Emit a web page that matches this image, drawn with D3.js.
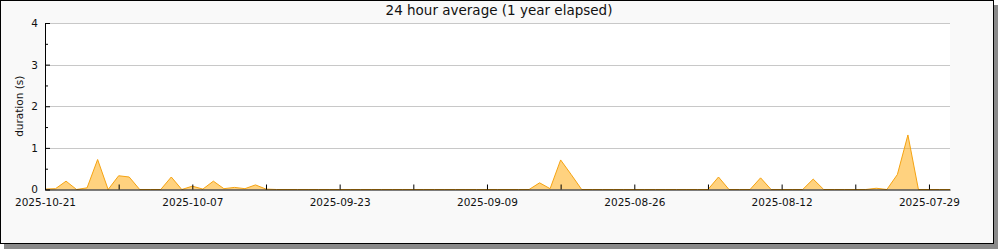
<!DOCTYPE html>
<html><head><meta charset="utf-8">
<script src="https://cdn.jsdelivr.net/npm/d3@7"></script>
<style>
html,body{margin:0;padding:0;background:#fff;}
svg{display:block;font-family:"DejaVu Sans",sans-serif;}
</style></head>
<body><svg id="c" width="1000" height="250"></svg>
<script>
// ---- data ----
const title = "24 hour average (1 year elapsed)";
const yLabel = "duration (s)";
const startDate = "2025-10-21";   // first (leftmost) day, going back in time
const endDate = "2025-07-27";     // rightmost end of axis
// daily values, from 2025-10-21 backwards
const values = [
  0.01, 0.02, 0.20, 0.00, 0.04, 0.72, 0.00, 0.33, 0.30, 0.00,
  0.00, 0.00, 0.30, 0.00, 0.08, 0.01, 0.20, 0.02, 0.05, 0.02,
  0.11, 0.01, 0.00, 0.00, 0.00, 0.00, 0.00, 0.00, 0.00, 0.00,
  0.00, 0.00, 0.00, 0.00, 0.00, 0.00, 0.00, 0.00, 0.00, 0.00,
  0.00, 0.00, 0.00, 0.00, 0.00, 0.00, 0.00, 0.16, 0.02, 0.71,
  0.36, 0.00, 0.00, 0.00, 0.00, 0.00, 0.00, 0.00, 0.00, 0.00,
  0.00, 0.00, 0.00, 0.00, 0.30, 0.00, 0.00, 0.00, 0.28, 0.00,
  0.00, 0.00, 0.00, 0.25, 0.00, 0.00, 0.00, 0.00, 0.00, 0.03,
  0.00, 0.36, 1.31, 0.00, 0.00, 0.00, 0.00
];
const yTicks = [0, 1, 2, 3, 4];
const yMinorTicks = [0.5, 1.5, 2.5, 3.5];
const xTickLabels = ["2025-10-21", "2025-10-07", "2025-09-23", "2025-09-09", "2025-08-26", "2025-08-12", "2025-07-29"];
const xMinorTicks = ["2025-10-14", "2025-09-30", "2025-09-16", "2025-09-02", "2025-08-19", "2025-08-05"];

// ---- chart ----
const parse = d3.utcParse("%Y-%m-%d");
const fmt = d3.utcFormat("%Y-%m-%d");
const t0 = parse(startDate);
const data = values.map((v, i) => ({date: d3.utcDay.offset(t0, -i), value: v}));

const svg = d3.select("#c");
const L = 45, R = 950, T = 23, B = 189.5;

// shadow + frame
svg.append("rect").attr("x", 4).attr("y", 5).attr("width", 994).attr("height", 244).attr("fill", "#8a8a8a");
svg.append("rect").attr("x", 0.5).attr("y", 0.5).attr("width", 993).attr("height", 243)
  .attr("fill", "#f9f9f9").attr("stroke", "#000").attr("stroke-width", 1);

// plot bg
svg.append("rect").attr("x", L).attr("y", T).attr("width", R - L).attr("height", B - T).attr("fill", "#fff");

const x = d3.scaleUtc().domain([parse(startDate), parse(endDate)]).range([L, R]);
const y = d3.scaleLinear().domain([0, 4]).range([B, T]);

// grid
svg.append("g").selectAll("line").data(yTicks.filter(d => d > 0)).join("line")
  .attr("x1", L).attr("x2", R)
  .attr("y1", d => Math.round(y(d)) + 0.5).attr("y2", d => Math.round(y(d)) + 0.5)
  .attr("stroke", "#c8c8c8").attr("stroke-width", 1);

// area
const area = d3.area().x(d => x(d.date)).y0(y(0)).y1(d => y(d.value));
const line = d3.line().x(d => x(d.date)).y(d => y(d.value));
svg.append("path").datum(data).attr("d", area).attr("fill", "rgba(255,165,0,0.5)");
svg.append("path").datum(data).attr("d", line).attr("fill", "none").attr("stroke", "#f5a311").attr("stroke-width", 1);

// x axis
const xAll = xTickLabels.concat(xMinorTicks).map(parse);
const xAxis = d3.axisBottom(x).tickValues(xAll).tickSizeInner(-5).tickSizeOuter(0)
  .tickPadding(9)
  .tickFormat(d => xTickLabels.includes(fmt(d)) ? fmt(d) : "");
const gx = svg.append("g").attr("transform", `translate(0,${B})`).call(xAxis);
gx.select(".domain").attr("stroke", "#000");
gx.selectAll(".tick line").attr("stroke", "#000");
gx.selectAll("text").attr("font-size", 10.5).attr("font-family", "DejaVu Sans").attr("fill", "#111");

// y axis
const yAxis = d3.axisLeft(y).tickValues(yTicks).tickSizeInner(-5).tickSizeOuter(0).tickPadding(7).tickFormat(d3.format("d"));
const gy = svg.append("g").attr("transform", `translate(${L},0)`).call(yAxis);
gy.select(".domain").attr("stroke", "#000");
gy.selectAll(".tick line").attr("stroke", "#000");
gy.selectAll("text").attr("font-size", 10.5).attr("font-family", "DejaVu Sans").attr("fill", "#111");
const yAxisMinor = d3.axisLeft(y).tickValues(yMinorTicks).tickSizeInner(-3).tickSizeOuter(0).tickFormat("");
const gym = svg.append("g").attr("transform", `translate(${L},0)`).call(yAxisMinor);
gym.select(".domain").remove();
gym.selectAll(".tick line").attr("stroke", "#000");

// labels
svg.append("text").attr("x", 499).attr("y", 15).attr("text-anchor", "middle")
  .attr("font-size", 13.5).attr("fill", "#111").text(title);
svg.append("text").attr("transform", `translate(23,${(T + B) / 2}) rotate(-90)`)
  .attr("text-anchor", "middle").attr("font-size", 10.5).attr("fill", "#111").text(yLabel);
</script></body></html>
